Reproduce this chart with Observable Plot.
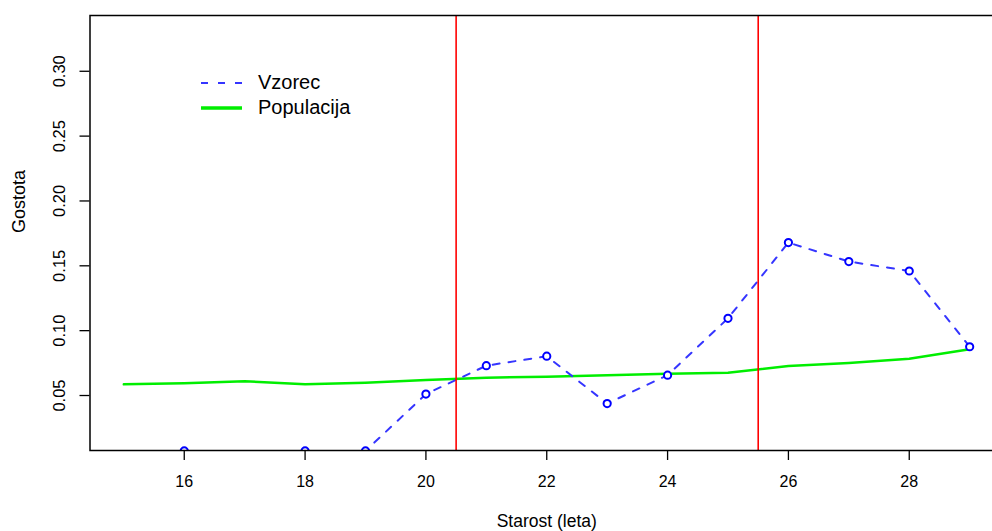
<!DOCTYPE html>
<html>
<head>
<meta charset="utf-8">
<script src="https://cdn.jsdelivr.net/npm/d3@7"></script>
<script src="https://cdn.jsdelivr.net/npm/@observablehq/plot@0.6"></script>
<style>
  html, body { margin: 0; padding: 0; background: #fff; overflow: hidden; }
  #wrap { position: relative; width: 992px; height: 531px; overflow: hidden; }
  #chart svg { max-width: none !important; }
  #legend { position: absolute; left: 200px; top: 70px; font-family: "Liberation Sans", Arial, sans-serif; font-size: 20px; color: #000; }
  #legend .row { display: flex; align-items: center; height: 25px; }
  #legend svg { margin-right: 16px; }
</style>
</head>
<body>
<div id="wrap">
  <div id="chart"></div>
  <div id="legend"></div>
</div>
<script>
// Age (years)
const ages = [15, 16, 17, 18, 19, 20, 21, 22, 23, 24, 25, 26, 27, 28, 29];
// Sample density ("Vzorec")
const sample = [0, 0.0073, 0, 0.0073, 0.0073, 0.0511, 0.0730, 0.0803, 0.0438, 0.0657, 0.1095, 0.1679, 0.1533, 0.1460, 0.0876];
// Population density ("Populacija")
const population = [0.0586, 0.0594, 0.0610, 0.0586, 0.0599, 0.0620, 0.0637, 0.0645, 0.0656, 0.0668, 0.0676, 0.0728, 0.0751, 0.0784, 0.0856];
// Interval bounds shown as vertical red lines
const bounds = [20.5, 25.5];
// Axis ticks
const xTicks = [16, 18, 20, 22, 24, 26, 28];
const yTicks = [0.05, 0.10, 0.15, 0.20, 0.25, 0.30];
const xLabel = "Starost (leta)";
const yLabel = "Gostota";
const seriesNames = ["Vzorec", "Populacija"];

const sampleRows = ages.map((a, i) => ({age: a, value: sample[i]}));
const popRows = ages.map((a, i) => ({age: a, value: population[i]}));

const chart = Plot.plot({
  width: 1010,
  height: 531,
  marginLeft: 89.5,
  marginRight: 7,
  marginTop: 15,
  marginBottom: 81,
  x: {domain: [14.44, 29.56]},
  y: {domain: [0.0076, 0.3430]},
  style: {fontFamily: "Liberation Sans, Arial, sans-serif", background: "#fff", color: "#000", maxWidth: "none"},
  marks: [
    Plot.line(popRows, {x: "age", y: "value", stroke: "#00ee00", strokeWidth: 2.5, clip: true}),
    Plot.line(sampleRows, {x: "age", y: "value", stroke: "#3535ff", strokeWidth: 2, strokeDasharray: "7,9", clip: true}),
    Plot.dot(sampleRows, {x: "age", y: "value", r: 3.6, stroke: "#0000ff", strokeWidth: 2, fill: "#fff", clip: true}),
    Plot.ruleX(bounds, {stroke: "#ff0000", strokeWidth: 1.6}),
    Plot.frame({stroke: "#000", strokeWidth: 1.5}),
    Plot.axisX(xTicks, {tickSize: 10, tickPadding: 15, fontSize: 16, label: null, tickFormat: d => String(d), strokeWidth: 1.3}),
    Plot.axisY(yTicks, {tickSize: 10, tickFormat: () => "", label: null, strokeWidth: 1.3}),
    Plot.text(yTicks, {y: d => d, text: d => d.toFixed(2), frameAnchor: "left", dx: -30.5, rotate: -90, fontSize: 16.5, textAnchor: "middle", lineAnchor: "middle", fill: "#000"}),
    Plot.text([yLabel], {text: d => d, frameAnchor: "left", dx: -71, rotate: -90, fontSize: 18, lineAnchor: "middle", fill: "#000"}),
    Plot.text([xLabel], {text: d => d, frameAnchor: "bottom", dy: 71, fontSize: 17.5, lineAnchor: "middle", fill: "#000"})
  ]
});
document.getElementById("chart").appendChild(chart);

// Legend: line samples with series names
const legendStyles = [
  {stroke: "#3535ff", width: 2, dash: "7,10"},
  {stroke: "#00ee00", width: 3.5, dash: null}
];
const legend = document.getElementById("legend");
seriesNames.forEach((name, i) => {
  const row = document.createElement("div");
  row.className = "row";
  const s = legendStyles[i];
  row.innerHTML = `<svg width="42" height="10"><line x1="1" x2="42" y1="5" y2="5" stroke="${s.stroke}" stroke-width="${s.width}" ${s.dash ? `stroke-dasharray="${s.dash}"` : ""}/></svg><span>${name}</span>`;
  legend.appendChild(row);
});
</script>
</body>
</html>
